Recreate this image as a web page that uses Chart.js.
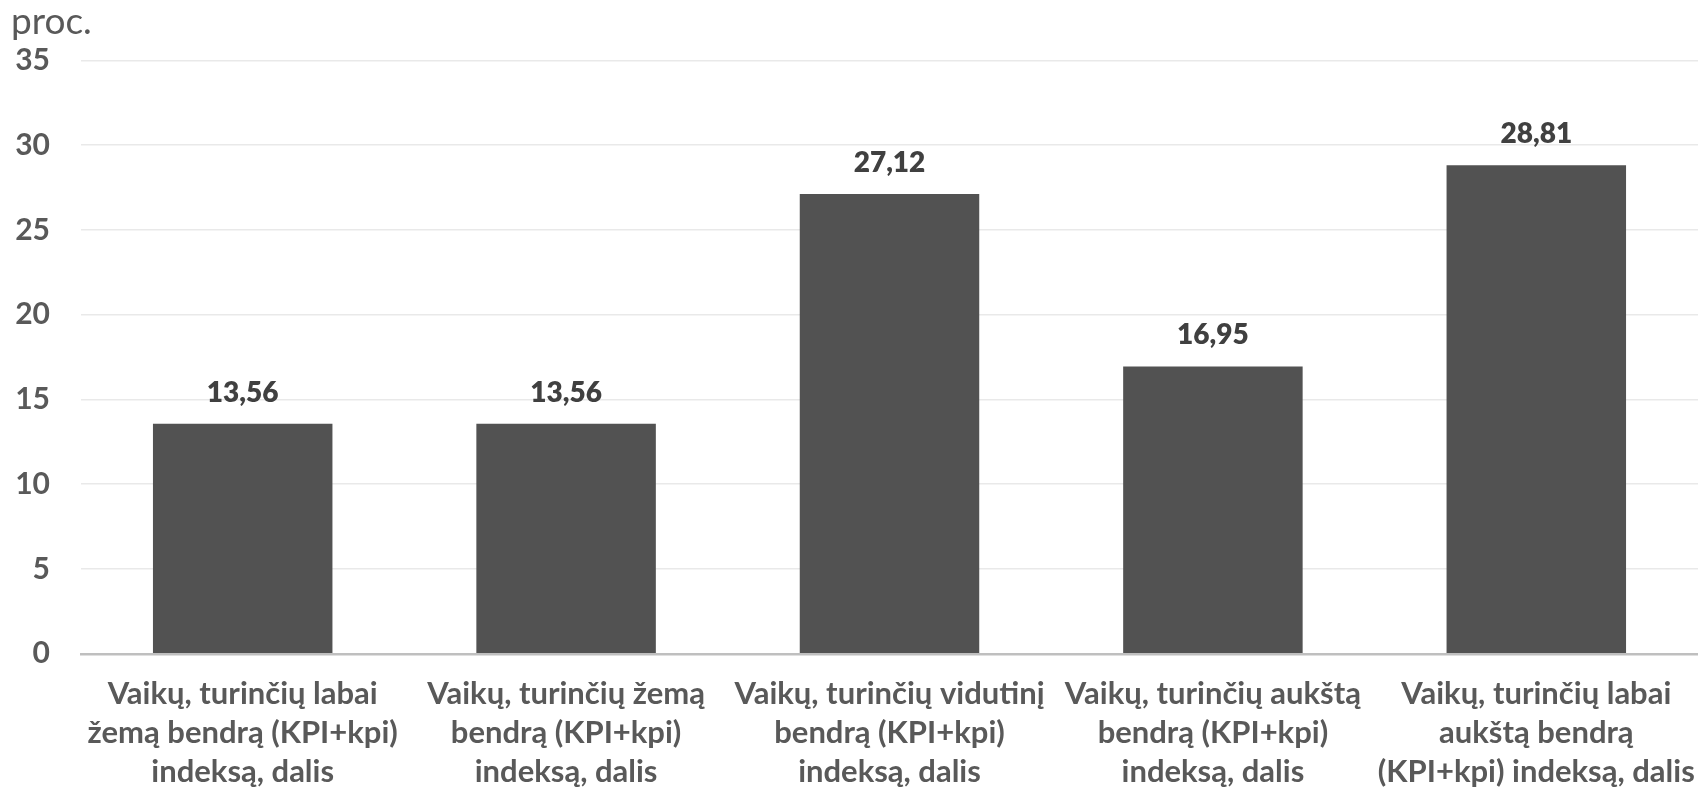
<!DOCTYPE html>
<html lang="lt">
<head>
<meta charset="utf-8">
<title>KPI indeksas</title>
<script src="https://cdn.jsdelivr.net/npm/chart.js@4.4.1/dist/chart.umd.min.js"></script>
<style>
    html, body { margin: 0; padding: 0; background: #ffffff; }
    #wrap { width: 1698px; height: 787px; position: relative; }
</style>
</head>
<body>
<div id="wrap"><canvas id="myChart"></canvas></div>
<script>
const categories = [
    ['Vaikų, turinčių labai', 'žemą bendrą (KPI+kpi)', 'indeksą, dalis'],
    ['Vaikų, turinčių žemą', 'bendrą (KPI+kpi)', 'indeksą, dalis'],
    ['Vaikų, turinčių vidutinį', 'bendrą (KPI+kpi)', 'indeksą, dalis'],
    ['Vaikų, turinčių aukštą', 'bendrą (KPI+kpi)', 'indeksą, dalis'],
    ['Vaikų, turinčių labai', 'aukštą bendrą', '(KPI+kpi) indeksą, dalis']
];
const values = [13.56, 13.56, 27.12, 16.95, 28.81];
const yTicks = [0, 5, 10, 15, 20, 25, 30, 35];
const unitLabel = 'proc.';

const FONT = 'Lato, "Noto Sans", sans-serif';

// reiksmes virs stulpeliu
const valueLabels = {
    id: 'valueLabels',
    afterDatasetsDraw(chart) {
        const ctx = chart.ctx;
        const meta = chart.getDatasetMeta(0);
        ctx.save();
        ctx.font = '800 28px ' + FONT;
        ctx.fillStyle = '#404040';
        ctx.textAlign = 'center';
        ctx.textBaseline = 'middle';
        meta.data.forEach((bar, i) => {
            ctx.fillText(values[i].toFixed(2).replace('.', ','), bar.x, bar.y - 31);
        });
        ctx.restore();
    }
};

document.addEventListener('DOMContentLoaded', () => {
    const ctx = document.getElementById('myChart').getContext('2d');

    new Chart(ctx, {
        type: 'bar',
        data: {
            labels: categories,
            datasets: [{
                data: values,
                backgroundColor: '#525252',
                borderWidth: 0,
                barPercentage: 0.555,
                categoryPercentage: 1
            }]
        },
        options: {
            responsive: true,
            maintainAspectRatio: false,
            animation: false,
            layout: {
                padding: { left: 11, right: 0, top: 0, bottom: -25 }
            },
            plugins: {
                legend: { display: false },
                tooltip: { enabled: false },
                title: {
                    display: true,
                    text: unitLabel,
                    align: 'start',
                    color: '#595959',
                    font: { family: FONT, size: 37, weight: 'normal', lineHeight: 1.2 },
                    padding: { top: 0, bottom: 16 }
                }
            },
            scales: {
                x: {
                    grid: { display: false, drawTicks: false },
                    border: { display: true, color: '#bfbfbf', width: 2.5 },
                    ticks: {
                        autoSkip: false,
                        maxRotation: 0,
                        minRotation: 0,
                        padding: 21,
                        color: '#595959',
                        font: { family: FONT, size: 31, weight: 'bold', lineHeight: 1.25 }
                    },
                    afterFit(scale) {
                        scale.paddingLeft = 0;
                        scale.paddingRight = 0;
                    }
                },
                y: {
                    min: 0,
                    max: 35,
                    afterBuildTicks(scale) {
                        scale.ticks = yTicks.map(v => ({ value: v }));
                    },
                    grid: { color: '#e9e9e9', lineWidth: 1.5, drawTicks: false },
                    border: { display: false },
                    ticks: {
                        padding: 31,
                        color: '#595959',
                        font: { family: FONT, size: 30, weight: 'bold' }
                    },
                    afterFit(scale) {
                        scale.width = 70;
                    }
                }
            }
        },
        plugins: [valueLabels]
    });
});
</script>
</body>
</html>
